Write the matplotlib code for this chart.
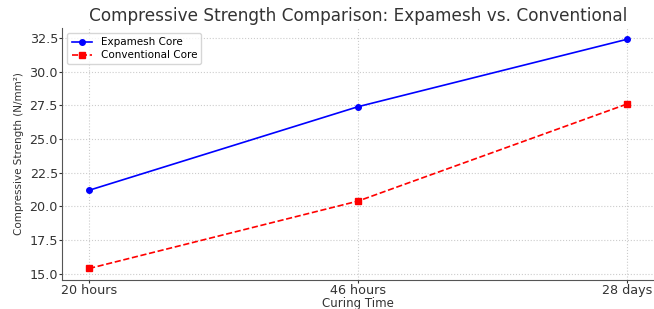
import matplotlib
matplotlib.use('Agg')
import matplotlib.pyplot as plt

# 데이터
curing_time = ["20 hours", "46 hours", "28 days"]
expamesh = [21.2, 27.4, 32.4]
conventional = [15.4, 20.4, 27.6]

fig, ax = plt.subplots(figsize=(6.54, 3.09), dpi=100)
fig.subplots_adjust(left=0.095, right=1.0, top=0.91, bottom=0.094)

x = range(len(curing_time))
ax.plot(x, expamesh, color='blue', marker='o', markersize=4, linewidth=1.2,
        label='Expamesh Core')
ax.plot(x, conventional, color='red', marker='s', markersize=4, linewidth=1.2,
        linestyle='--', label='Conventional Core')

ax.set_xticks(list(x))
ax.set_xticklabels(curing_time)
ax.set_title('Compressive Strength Comparison: Expamesh vs. Conventional',
             fontsize=12.2, color='#333333', pad=5)
ax.set_xlabel('Curing Time', fontsize=8.5, color='#333333', labelpad=0)
ax.set_ylabel('Compressive Strength (N/mm²)', fontsize=7.5, color='#333333')
ax.tick_params(labelsize=9.2, colors='#333333', length=2, pad=1)
ax.grid(True, linestyle=':', color='#cccccc', linewidth=0.8)

for s in ['top', 'right']:
    ax.spines[s].set_visible(False)
for s in ['left', 'bottom']:
    ax.spines[s].set_color('#555555')

ax.legend(loc='upper left', fontsize=7.5, handlelength=2.0, borderpad=0.4,
          labelspacing=0.3)

plt.savefig('out.png', dpi=100)
plt.close()
